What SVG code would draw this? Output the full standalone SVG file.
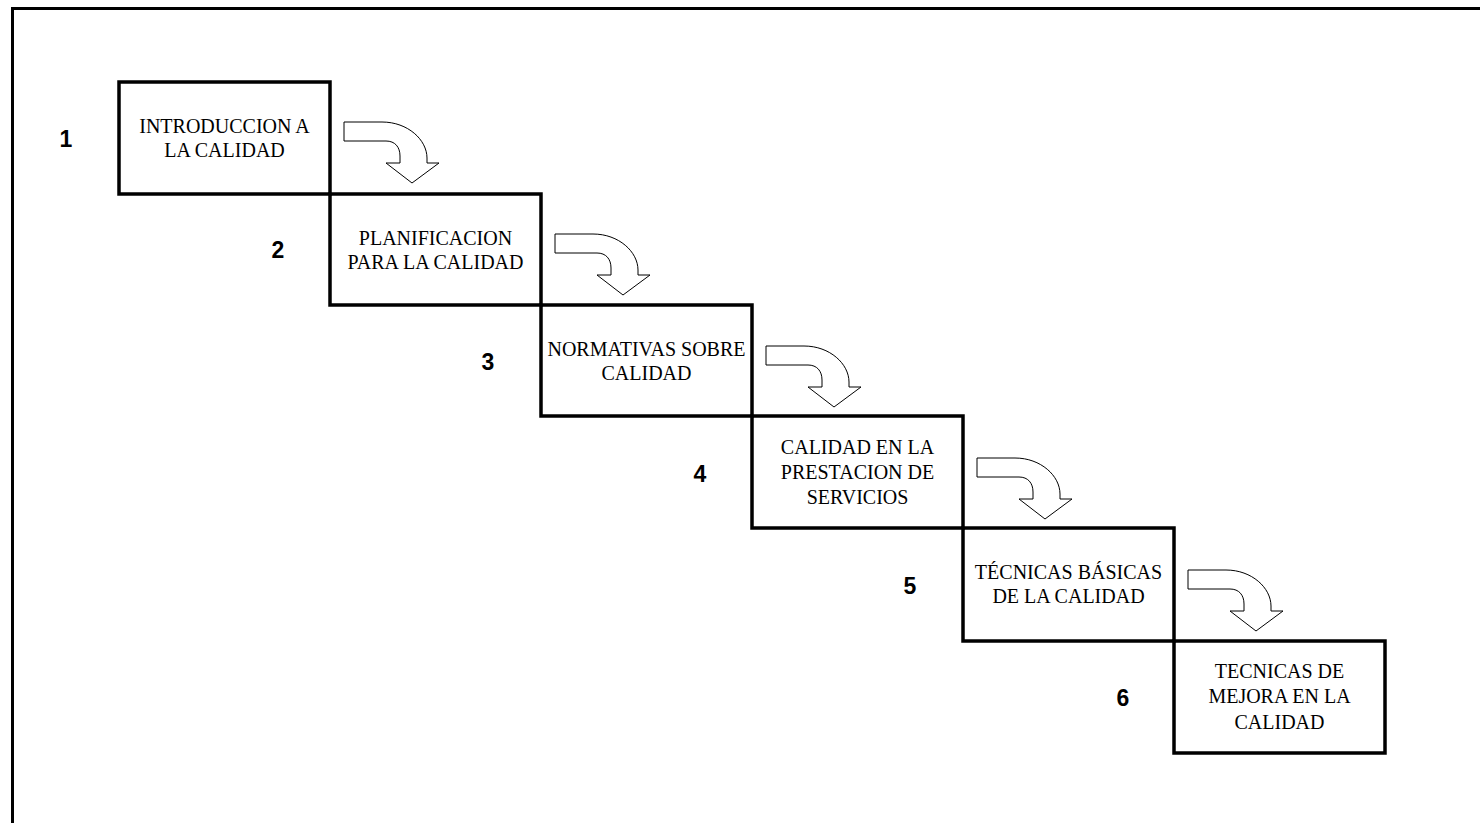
<svg xmlns="http://www.w3.org/2000/svg" width="1480" height="823" viewBox="0 0 1480 823">
<style>
.box{fill:none;stroke:#000;stroke-width:3.5}
.frame{fill:none;stroke:#000;stroke-width:3}
.arr{fill:#fff;stroke:#000;stroke-width:1}
.t{font-family:"Liberation Serif","Times New Roman",serif;font-size:20px;fill:#000;text-anchor:middle}
.n{font-family:"Liberation Sans",Arial,sans-serif;font-size:23px;font-weight:bold;fill:#000;text-anchor:middle}
</style>
<defs>
<path id="bent" class="arr" d="M344,122 H382 C408,122 427,140 427,158 V163 H439 L412,183 L386,163 H400 V156 C400,147 395,141 386,141 H344 Z"/>
</defs>
<rect width="1480" height="823" fill="#fff"/>
<path class="frame" d="M12.5,823 V8.5 H1480"/>
<g id="connectors">
<use href="#bent"/>
<use href="#bent" transform="translate(211,112)"/>
<use href="#bent" transform="translate(422,224)"/>
<use href="#bent" transform="translate(633,336)"/>
<use href="#bent" transform="translate(844,448)"/>
</g>
<g id="node1">
<rect class="box" x="119" y="82" width="211" height="112"/>
<text class="t" x="224.5" y="133">INTRODUCCION A</text>
<text class="t" x="224.5" y="157">LA CALIDAD</text>
<text class="n" x="66" y="147">1</text>
</g>
<g id="node2">
<rect class="box" x="330" y="194" width="211" height="111"/>
<text class="t" x="435.5" y="244.5">PLANIFICACION</text>
<text class="t" x="435.5" y="268.5">PARA LA CALIDAD</text>
<text class="n" x="278" y="258">2</text>
</g>
<g id="node3">
<rect class="box" x="541" y="305" width="211" height="111"/>
<text class="t" x="646.5" y="355.5">NORMATIVAS SOBRE</text>
<text class="t" x="646.5" y="379.5">CALIDAD</text>
<text class="n" x="488" y="370">3</text>
</g>
<g id="node4">
<rect class="box" x="752" y="416" width="211" height="112"/>
<text class="t" x="857.5" y="454">CALIDAD EN LA</text>
<text class="t" x="857.5" y="479">PRESTACION DE</text>
<text class="t" x="857.5" y="504">SERVICIOS</text>
<text class="n" x="700" y="482">4</text>
</g>
<g id="node5">
<rect class="box" x="963" y="528" width="211" height="113"/>
<text class="t" x="1068.5" y="579">TÉCNICAS BÁSICAS</text>
<text class="t" x="1068.5" y="603">DE LA CALIDAD</text>
<text class="n" x="910" y="594">5</text>
</g>
<g id="node6">
<rect class="box" x="1174" y="641" width="211" height="112"/>
<text class="t" x="1279.5" y="678">TECNICAS DE</text>
<text class="t" x="1279.5" y="703">MEJORA EN LA</text>
<text class="t" x="1279.5" y="729">CALIDAD</text>
<text class="n" x="1123" y="706">6</text>
</g>
</svg>
